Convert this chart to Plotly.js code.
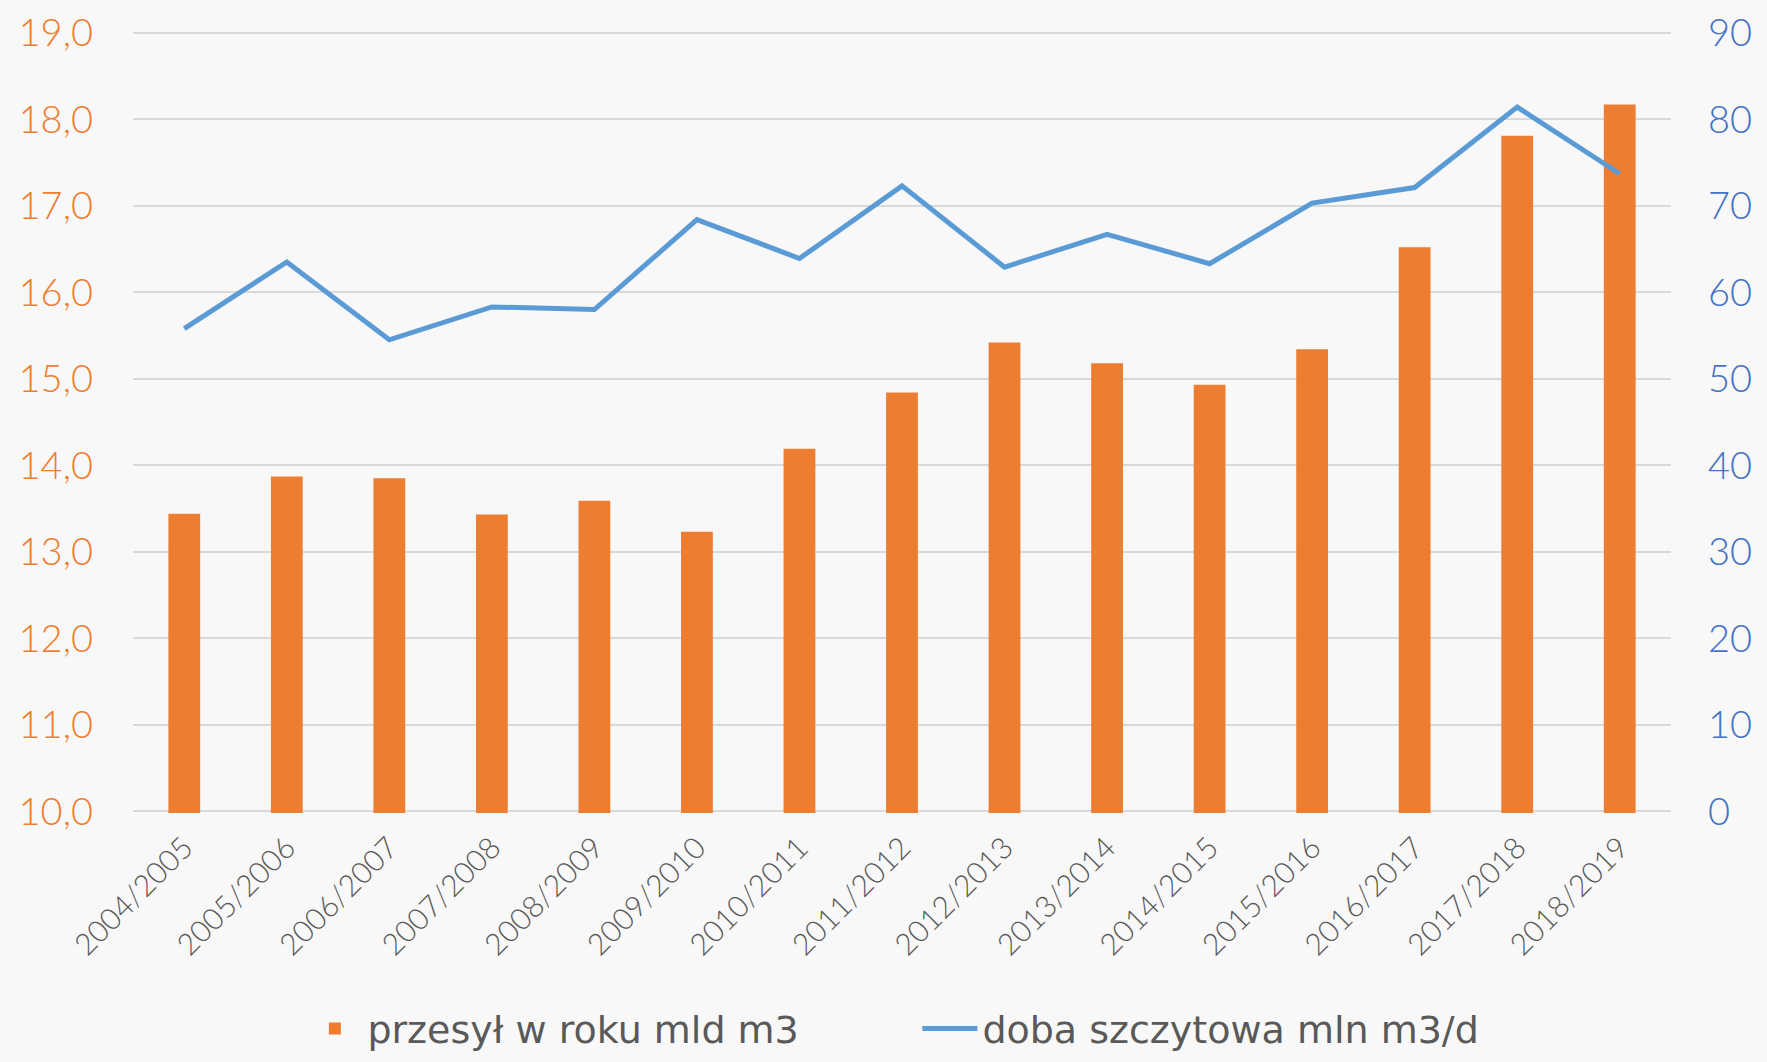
<!DOCTYPE html>
<html>
<head>
<meta charset="utf-8">
<script src="https://cdn.plot.ly/plotly-3.0.1.min.js"></script>
<style>
html,body{margin:0;padding:0;background:#F8F8F8;}
#chart{width:1767px;height:1062px;}
</style>
</head>
<body>
<div id="chart"></div>
<script>
const categories = ["2004/2005","2005/2006","2006/2007","2007/2008","2008/2009","2009/2010","2010/2011","2011/2012","2012/2013","2013/2014","2014/2015","2015/2016","2016/2017","2017/2018","2018/2019"];
const przesyl = [13.44,13.87,13.85,13.43,13.59,13.23,14.19,14.84,15.42,15.18,14.93,15.34,16.52,17.81,18.17];
const doba = [55.8,63.5,54.5,58.3,58.0,68.4,63.9,72.3,62.9,66.7,63.3,70.3,72.1,81.4,73.7];
const leftTicks = [10,11,12,13,14,15,16,17,18,19];
const rightTicks = [0,10,20,30,40,50,60,70,80,90];

const FONT = "Lato, 'Open Sans', sans-serif";
const LEGFONT = "'DejaVu Sans', sans-serif";

const traces = [
  {
    type: "bar",
    name: "przesył w roku mld m3",
    x: categories,
    y: przesyl,
    marker: {color: "#ED7D31"},
    yaxis: "y"
  },
  {
    type: "scatter",
    mode: "lines",
    name: "doba szczytowa mln m3/d",
    x: categories,
    y: doba,
    line: {color: "#5B9BD5", width: 5},
    yaxis: "y2"
  }
];

const layout = {
  width: 1767,
  height: 1062,
  paper_bgcolor: "#F8F8F8",
  plot_bgcolor: "#F8F8F8",
  separators: ", ",
  margin: {l: 133, r: 96, t: 31, b: 249, autoexpand: false},
  bargap: 0.69,
  font: {family: FONT, color: "#595959"},
  xaxis: {
    type: "category",
    tickangle: -45,
    tickfont: {size: 30, color: "#595959", family: FONT, weight: 300},
    showgrid: false,
    showline: false,
    ticks: "",
    zeroline: false,
    ticklabelstandoff: 10
  },
  yaxis: {
    range: [9.98, 19.02],
    tickvals: leftTicks,
    tickformat: ".1f",
    tickfont: {size: 38, color: "#ED7D31", family: FONT, weight: 300},
    gridcolor: "#D9D9D9",
    gridwidth: 2,
    zeroline: false,
    showline: false,
    ticks: "",
    ticklabelstandoff: 39
  },
  yaxis2: {
    overlaying: "y",
    side: "right",
    range: [-0.2, 90.2],
    tickvals: rightTicks,
    tickfont: {size: 38, color: "#4472C4", family: FONT, weight: 300},
    showgrid: false,
    zeroline: false,
    showline: false,
    ticks: "",
    ticklabelstandoff: 36
  },
  showlegend: true,
  legend: {
    orientation: "h",
    x: 0.51,
    xanchor: "center",
    y: -0.276,
    yanchor: "middle",
    font: {size: 38, color: "#595959", family: LEGFONT},
    bgcolor: "rgba(0,0,0,0)",
    itemwidth: 55,
    entrywidth: 545
  }
};

Plotly.newPlot("chart", traces, layout, {displayModeBar: false, staticPlot: true});
</script>
</body>
</html>
